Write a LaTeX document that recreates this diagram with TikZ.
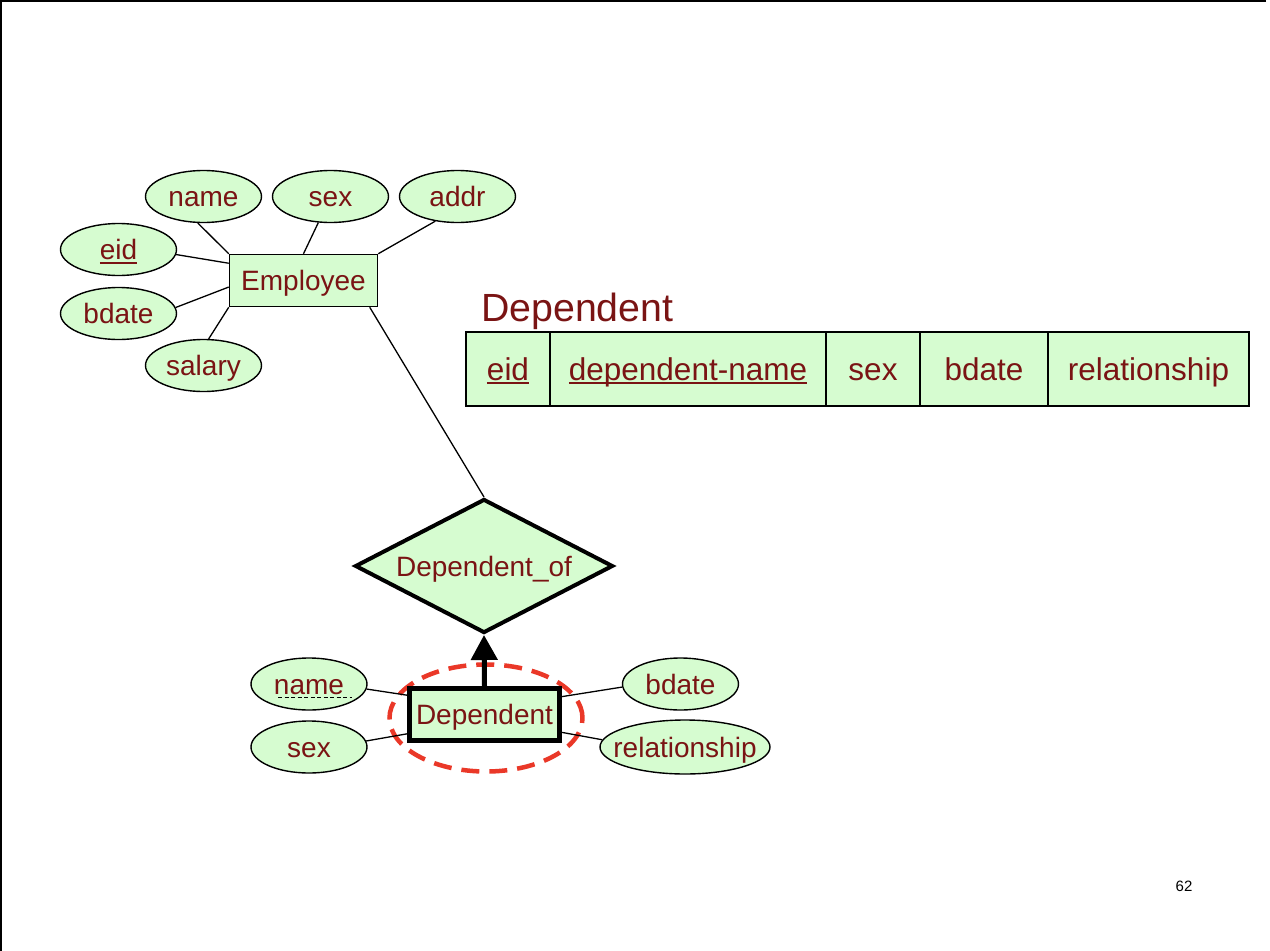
\documentclass[tikz,border=0pt]{standalone}
\usepackage{fontspec}
\setmainfont{Liberation Sans}
\usetikzlibrary{shapes.geometric,arrows.meta,calc}
\definecolor{txtred}{RGB}{122,20,20}
\definecolor{erfill}{RGB}{214,252,208}
\definecolor{dashred}{RGB}{234,56,40}
\newsavebox{\keyulbox}
\newcommand{\keyul}[1]{\sbox{\keyulbox}{#1}\leavevmode\rlap{\rule[-4pt]{\wd\keyulbox}{1.6pt}}\usebox{\keyulbox}}
\tikzset{
  attr/.style={ellipse,draw=black,line width=1.4pt,fill=erfill,text=txtred,
    minimum width=116pt,minimum height=52pt,inner sep=0pt,
    text height=22pt,text depth=2pt,
    font=\fontsize{28}{30}\selectfont},
  ent/.style={rectangle,draw=black,line width=1.5pt,fill=erfill,text=txtred,
    minimum width=148pt,minimum height=52pt,inner sep=0pt,
    text height=22pt,text depth=2pt,
    font=\fontsize{28}{30}\selectfont},
  weakent/.style={ent,line width=5pt,minimum width=150pt,minimum height=52pt},
  rel/.style={diamond,draw=black,line width=4pt,fill=erfill,text=txtred,
    shape aspect=1.9,minimum width=258pt,minimum height=134pt,inner sep=0pt,
    text height=22pt,text depth=2pt,
    font=\fontsize{28}{30}\selectfont},
  cell/.style={rectangle,draw=black,line width=1.8pt,fill=erfill,text=txtred,
    minimum height=74pt,inner sep=0pt,outer sep=0pt,anchor=north west,
    text height=26pt,text depth=4pt,
    font=\fontsize{31.5}{34}\selectfont},
  link/.style={draw=black,line width=1.3pt},
  frame/.style={draw=black,line width=1.5pt},
}
\begin{document}
\begin{tikzpicture}[x=1pt,y=-1pt]
\useasboundingbox (0,0) rectangle (1270,951);
\fill[white] (0,0) rectangle (1270,951);
% frame
\coordinate (ftl) at (1,1);
\coordinate (ftr) at (1266,1);
\coordinate (fbl) at (1,951);
\draw[frame] (ftr) -- (ftl) -- (fbl);

% Employee ER part
\node[ent] (emp) at (303.5,280.5) {Employee};
\node[attr] (ename) at (203.5,196.5) {\makebox[0pt]{name}};
\node[attr] (esex) at (330.5,196.5) {\makebox[0pt]{sex}};
\node[attr] (eaddr) at (457.5,196.5) {\makebox[0pt]{addr}};
\node[attr] (eeid) at (118.5,249.5) {\makebox[0pt]{\keyul{eid}}};
\node[attr] (ebdate) at (118.5,313.5) {\makebox[0pt]{bdate}};
\node[attr] (esal) at (203.5,365.5) {\makebox[0pt]{salary}};
\draw[link] (ename.-102) -- (emp.north west);
\draw[link] (esex.-115) -- (emp.north);
\draw[link] (eaddr.-132) -- (emp.north east);
\draw[link] (eeid.-5) -- (emp.167);
\draw[link] (ebdate.6) -- (emp.185);
\draw[link] (esal.79) -- (emp.south west);

% relationship
\node[rel] (depof) at (484,566) {Dependent\_of};
\draw[link] (emp.-22) -- (depof.north);

% weak entity
\node[ellipse,draw=dashred,line width=4.5pt,dash pattern=on 18pt off 10pt,
  minimum width=193pt,minimum height=107pt,inner sep=0pt] (ring) at (486,718) {};
\node[weakent] (dep) at (484.5,714.5) {Dependent};
\draw[line width=5pt,-{Triangle[width=26pt,length=25pt]}] (dep.north) -- (depof.south);
\node[attr] (dname) at (309,684) {\makebox[0pt]{name}};
\node[attr] (dsex) at (309,747) {\makebox[0pt]{sex}};
\node[attr] (dbdate) at (680.5,684) {\makebox[0pt]{bdate}};
\node[attr,minimum width=170pt,minimum height=54pt] (drel) at (685,747) {\makebox[0pt]{relationship}};
\draw[black,line width=1pt,dash pattern=on 4pt off 2.5pt]
  ([xshift=-31pt,yshift=-13pt]dname.center) -- ([xshift=43pt,yshift=-13pt]dname.center);
\draw[link] (dname.-5) -- (dep.166);
\draw[link] (dsex.6) -- (dep.194);
\draw[link] (dbdate.183) -- (dep.13);
\draw[link] (drel.175) -- (dep.-13);

% relational table
\node[anchor=base west,text=txtred,inner sep=0pt,font=\fontsize{39.3}{42}\selectfont] (ttl) at (481,321) {Dependent};
\node[cell,minimum width=84pt] (c1) at (466,332) {\keyul{eid}};
\node[cell,minimum width=276pt] (c2) at (c1.north east) {\keyul{dependent-name}};
\node[cell,minimum width=94pt] (c3) at (c2.north east) {sex};
\node[cell,minimum width=128pt] (c4) at (c3.north east) {bdate};
\node[cell,minimum width=201pt] (c5) at (c4.north east) {relationship};

% page number
\node[text=black,inner sep=0pt,font=\fontsize{15}{17}\selectfont] (pg) at (1184,886) {62};
\end{tikzpicture}
\end{document}
